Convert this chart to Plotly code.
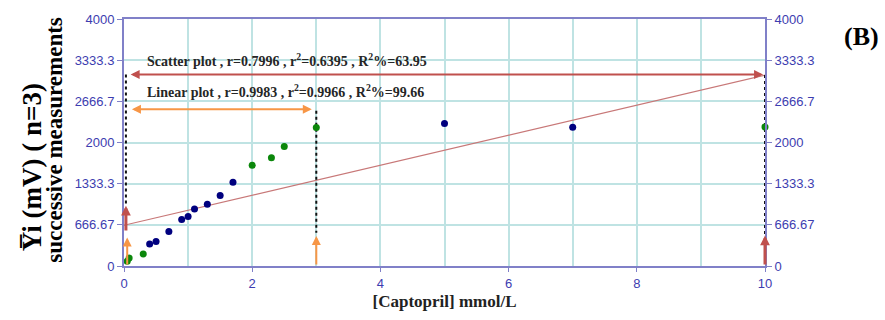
import plotly.graph_objects as go

# ---- data ----
conc_blue = [0.4, 0.5, 0.7, 0.9, 1.0, 1.1, 1.3, 1.5, 1.7, 5.0, 7.0]
resp_blue = [358, 395, 558, 754, 800, 923, 1000, 1143, 1358, 2308, 2246]
conc_green = [0.05, 0.08, 0.3, 2.0, 2.3, 2.5, 3.0, 10.0]
resp_green = [75, 130, 195, 1630, 1754, 1934, 2241, 2251]

fit_x = [0, 10]
fit_y = [660, 3092]

y_tickvals = [0, 666.67, 1333.33, 2000, 2666.67, 3333.33, 4000]
y_ticktext = ["0", "666.67", "1333.3", "2000", "2666.7", "3333.3", "4000"]
x_tickvals = [0, 2, 4, 6, 8, 10]

# dotted guide lines: (x, y_top, y_bottom)
guide_x = [0.03, 3.0, 10.0]
guide_top = [3100, 2513, 3092]
guide_bot = [974, 538, 492]

# horizontal double arrows: (x_start, x_end, y)
scatter_span = [0.08, 9.97, 3100]
linear_span = [0.10, 2.93, 2540]

# vertical arrows: (x, y_from, y_to)
red_up = [(0.03, 549, 974), (10.0, 0, 492)]
orange_up = [(0.05, 0, 461), (3.0, 0, 487)]

scatter_text = "<b>Scatter plot , r=0.7996 , r<sup>2</sup>=0.6395 , R<sup>2</sup>%=63.95</b>"
linear_text = "<b>Linear plot , r=0.9983 , r<sup>2</sup>=0.9966 , R<sup>2</sup>%=99.66</b>"

RED = "#c0504d"
ORANGE = "#f79646"
AXIS = "#8080c8"
GRID = "#bfe3e3"
TICKC = "#3d3db0"
SERIF = "Liberation Serif, Times New Roman, serif"
SANS = "Liberation Sans, Arial, sans-serif"

fig = go.Figure()

fig.add_trace(go.Scatter(x=fit_x, y=fit_y, mode="lines",
                         line=dict(color="#c87878", width=1.2),
                         showlegend=False, hoverinfo="skip"))

for gx, gt, gb in zip(guide_x, guide_top, guide_bot):
    fig.add_trace(go.Scatter(x=[gx, gx], y=[gt, gb], mode="lines",
                             line=dict(color="#111111", width=2, dash="dot"),
                             showlegend=False, hoverinfo="skip", cliponaxis=False))

fig.add_trace(go.Scatter(x=conc_blue, y=resp_blue, mode="markers",
                         marker=dict(color="#00007f", size=7),
                         showlegend=False, cliponaxis=False))
fig.add_trace(go.Scatter(x=conc_green, y=resp_green, mode="markers",
                         marker=dict(color="#0b870b", size=7),
                         showlegend=False, cliponaxis=False))

# invisible trace for the right axis
fig.add_trace(go.Scatter(x=[0], y=[0], yaxis="y2", mode="markers",
                         marker=dict(opacity=0), showlegend=False, hoverinfo="skip"))

ann = []
for span, col in [(scatter_span, RED), (linear_span, ORANGE)]:
    ann.append(dict(x=span[1], y=span[2], ax=span[0], ay=span[2],
                    xref="x", yref="y", axref="x", ayref="y", text="",
                    showarrow=True, arrowhead=2, startarrowhead=2,
                    arrowside="end+start", arrowsize=0.9, startarrowsize=0.9,
                    arrowwidth=2, arrowcolor=col, standoff=0, startstandoff=0))
for items, col, w, s in [(red_up, RED, 3, 0.65), (orange_up, ORANGE, 2, 0.9)]:
    for vx, y0, y1 in items:
        ann.append(dict(x=vx, y=y1, ax=vx, ay=y0,
                        xref="x", yref="y", axref="x", ayref="y", text="",
                        showarrow=True, arrowhead=2, arrowsize=s,
                        arrowwidth=w, arrowcolor=col, standoff=0))

ann.append(dict(x=0.33, y=3338, xref="x", yref="y", text=scatter_text,
                showarrow=False, xanchor="left", yanchor="middle",
                font=dict(family=SERIF, size=14, color="#262626")))
ann.append(dict(x=0.33, y=2831, xref="x", yref="y", text=linear_text,
                showarrow=False, xanchor="left", yanchor="middle",
                font=dict(family=SERIF, size=14, color="#262626")))

ann.append(dict(x=-0.1435, y=0.40, xref="paper", yref="paper",
                text="<b>Y\u0305i (mV) ( n=3)</b>", textangle=-90,
                showarrow=False, xanchor="center", yanchor="middle",
                font=dict(family=SERIF, size=27, color="#000000")))
ann.append(dict(x=-0.1076, y=0.5115, xref="paper", yref="paper",
                text="<b>successive measurements</b>", textangle=-90,
                showarrow=False, xanchor="center", yanchor="middle",
                font=dict(family=SERIF, size=23, color="#000000")))
ann.append(dict(x=1.151, y=0.931, xref="paper", yref="paper",
                text="<b>(B)</b>", showarrow=False,
                xanchor="center", yanchor="middle",
                font=dict(family=SERIF, size=26, color="#000000")))

fig.update_layout(
    width=885, height=320,
    margin=dict(l=124, r=120, t=15, b=45),
    paper_bgcolor="white", plot_bgcolor="white",
    annotations=ann,
    xaxis=dict(range=[0, 10], tickvals=x_tickvals, showgrid=True,
               gridcolor=GRID, gridwidth=1.5,
               minor=dict(dtick=1, showgrid=True, gridcolor=GRID, gridwidth=1.5),
               showline=True, linecolor=AXIS, linewidth=2, mirror=True,
               ticks="outside", ticklen=4, tickcolor=AXIS, zeroline=False,
               tickfont=dict(family=SANS, size=13, color=TICKC),
               title=dict(text="<b>[Captopril] mmol/L</b>", standoff=6,
                          font=dict(family=SERIF, size=17, color="#222222"))),
    yaxis=dict(range=[0, 4000], tickvals=y_tickvals, ticktext=y_ticktext,
               showgrid=True, gridcolor=GRID, gridwidth=1.5,
               showline=True, linecolor=AXIS, linewidth=2,
               ticks="outside", ticklen=5, tickcolor=AXIS, zeroline=False,
               tickfont=dict(family=SANS, size=13, color=TICKC)),
    yaxis2=dict(range=[0, 4000], tickvals=y_tickvals, ticktext=y_ticktext,
                overlaying="y", side="right", showgrid=False,
                showline=True, linecolor=AXIS, linewidth=2,
                ticks="outside", ticklen=5, tickcolor=AXIS, zeroline=False,
                tickfont=dict(family=SANS, size=13, color=TICKC)),
)

fig.write_html("out.html")
